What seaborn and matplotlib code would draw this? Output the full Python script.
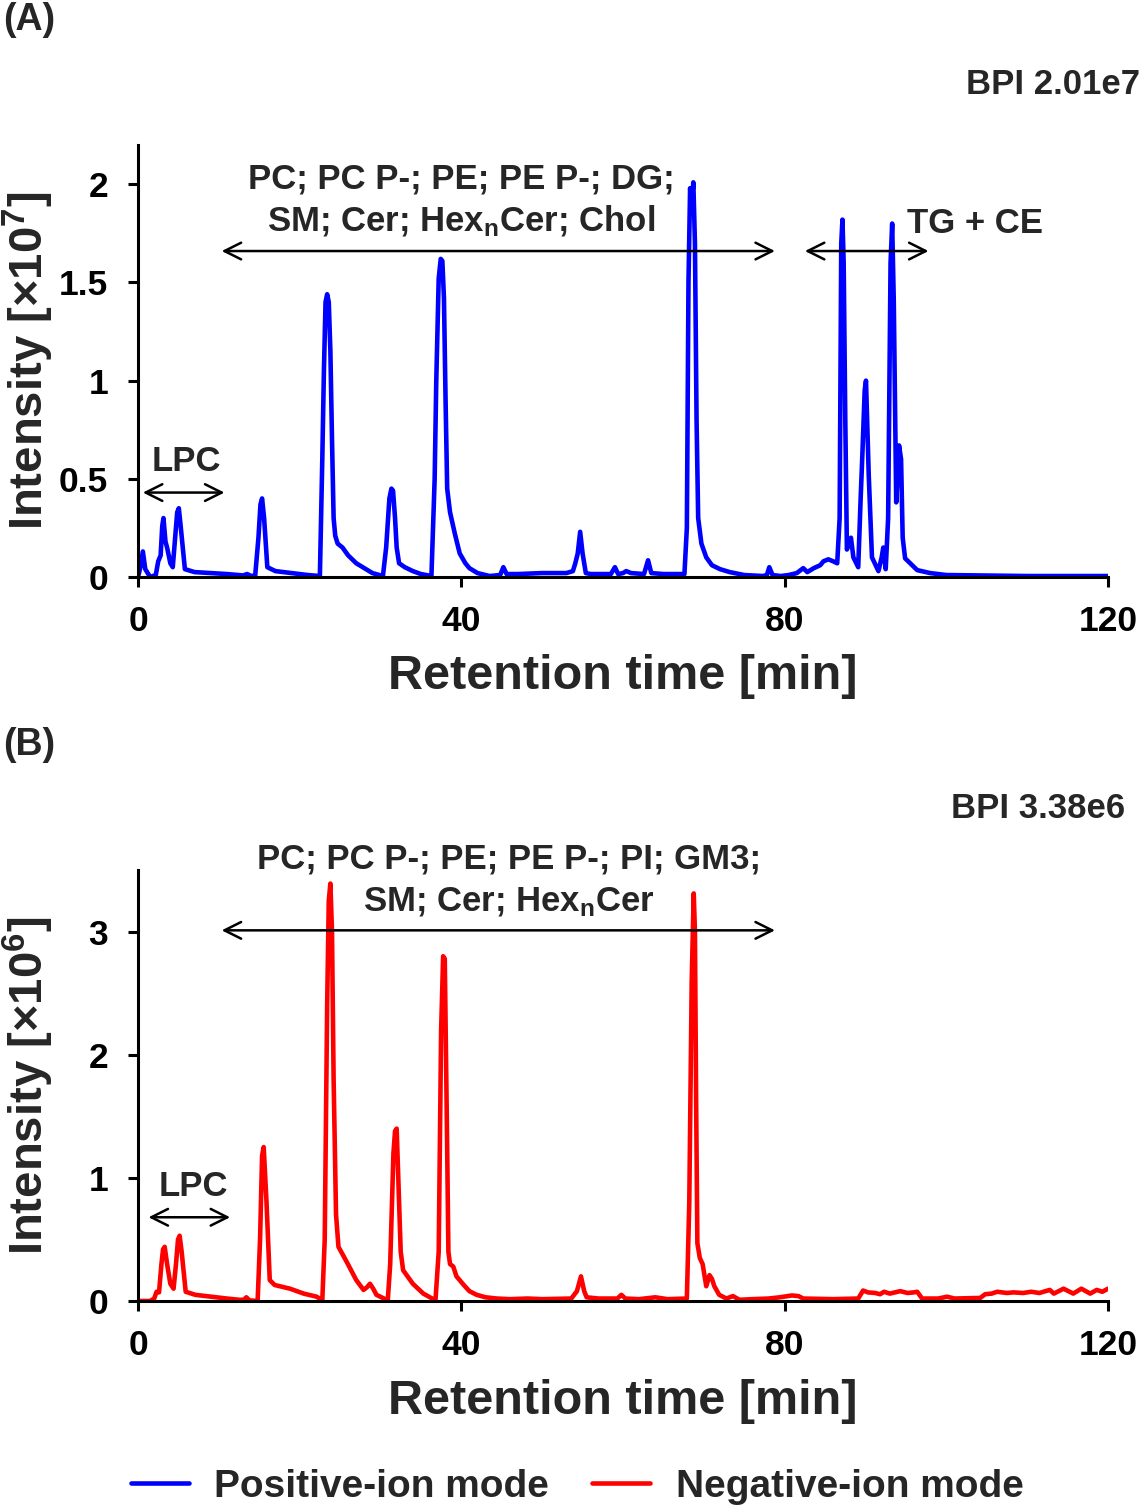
import matplotlib
matplotlib.use("Agg")
import matplotlib.pyplot as plt
import seaborn as sns
import pandas as pd

# ---------------- data ----------------
# Panel A: positive-ion mode BPI chromatogram (intensity x 1e7)
pos_time = [0, 0.3, 0.6, 0.9, 1.5, 2.2, 2.5, 2.8, 3.0, 3.15, 3.4, 3.6, 4.0, 4.3, 4.6, 4.85, 5.05, 5.3, 5.8,
            7.0, 9.0, 11.0, 13.0, 13.5, 14.0, 14.5, 14.9, 15.15, 15.35, 15.6, 16.0, 17.0, 19.0, 21.0,
            22.5, 22.8, 23.0, 23.2, 23.4, 23.6, 23.8, 24.0, 24.2, 24.4, 24.7, 25.3, 26.0, 27.0, 28.0, 29.0,
            30.3, 30.7, 31.1, 31.35, 31.55, 31.8, 32.0, 32.3, 33.0, 34.0, 35.0, 36.3, 36.7, 36.9, 37.2, 37.45,
            37.65, 37.85, 38.05, 38.25, 38.6, 39.2, 39.8, 40.5, 41.0, 42.0, 43.5, 44.8, 45.2, 45.6,
            47.0, 50.0, 53.0, 53.8, 54.1, 54.4, 54.7, 55.0, 55.4, 56.0, 58.5, 59.0, 59.4,
            60.0, 60.4, 61.0, 62.6, 63.1, 63.5, 65.0, 67.6, 67.9, 68.1, 68.3, 68.5, 68.7,
            68.9, 69.1, 69.3, 69.7, 70.3, 71.0, 72.0, 73.2, 75.0, 77.3, 77.8, 78.1, 78.5,
            79.5, 80.5, 81.5, 82.3, 82.8, 83.6, 84.4, 84.8, 85.4, 86.0, 86.5, 86.8, 87.0,
            87.15, 87.3, 87.5, 87.7, 88.0, 88.2, 88.5, 89.1, 89.4, 89.6, 89.9, 90.06, 90.4,
            90.8, 91.6, 92.0, 92.2, 92.5, 92.8, 93.1, 93.3, 93.5, 93.8, 94.0, 94.15, 94.4,
            94.6, 94.9, 96.4, 98.0, 100.0, 104.0, 110.0, 115.0, 120.0]
pos_int = [0.0, 0.05, 0.13, 0.04, 0.0, 0.01, 0.08, 0.11, 0.26, 0.30, 0.18, 0.15, 0.07, 0.05, 0.20, 0.33, 0.35, 0.25, 0.04,
           0.025, 0.02, 0.015, 0.008, 0.015, 0.005, 0.008, 0.20, 0.37, 0.40, 0.30, 0.05, 0.03, 0.02, 0.01,
           0.005, 0.60, 1.05, 1.40, 1.44, 1.40, 1.15, 0.70, 0.30, 0.21, 0.17, 0.15, 0.11, 0.07, 0.045, 0.02,
           0.005, 0.15, 0.40, 0.45, 0.44, 0.30, 0.15, 0.07, 0.05, 0.03, 0.015, 0.005, 0.50, 1.00, 1.52, 1.62,
           1.61, 1.42, 0.90, 0.45, 0.33, 0.22, 0.12, 0.07, 0.045, 0.02, 0.005, 0.01, 0.05, 0.015,
           0.015, 0.02, 0.02, 0.03, 0.07, 0.12, 0.23, 0.12, 0.02, 0.015, 0.015, 0.05, 0.015,
           0.02, 0.03, 0.02, 0.015, 0.085, 0.02, 0.015, 0.015, 0.25, 1.50, 1.98, 1.90, 2.01,
           1.70, 0.80, 0.30, 0.17, 0.10, 0.06, 0.04, 0.025, 0.01, 0.005, 0.01, 0.05, 0.01,
           0.005, 0.01, 0.02, 0.045, 0.025, 0.045, 0.06, 0.08, 0.09, 0.08, 0.07, 0.30, 1.70,
           1.82, 1.60, 0.80, 0.14, 0.18, 0.20, 0.10, 0.05, 0.40, 0.61, 0.95, 1.00, 0.52,
           0.10, 0.03, 0.10, 0.15, 0.04, 0.30, 1.60, 1.80, 1.40, 0.38, 0.55, 0.67, 0.60,
           0.20, 0.095, 0.035, 0.02, 0.01, 0.008, 0.005, 0.005, 0.005]

# Panel B: negative-ion mode BPI chromatogram (intensity x 1e6)
neg_time = [0, 1.5, 2.0, 2.3, 2.6, 2.9, 3.1, 3.3, 3.6, 4.0, 4.4, 4.7, 4.95, 5.15, 5.4, 5.9, 7.1, 9.0, 11.0,
            12.5, 13.1, 13.4, 13.8, 14.8, 15.1, 15.35, 15.55, 15.9, 16.3, 16.9, 18.8, 20.5, 22.1, 22.8,
            23.1, 23.4, 23.6, 23.8, 24.0, 24.2, 24.5, 24.8, 25.8, 27.0, 27.9, 28.3, 28.7, 29.1, 29.5,
            30.9, 31.2, 31.6, 31.8, 32.0, 32.2, 32.5, 32.8, 34.0, 35.3, 36.8, 37.2, 37.5, 37.75, 37.95,
            38.2, 38.4, 38.6, 39.0, 39.4, 40.3, 41.0, 41.9, 43.0, 44.4, 46.0, 48.2, 50.0,
            53.6, 54.3, 54.8, 55.2, 55.5, 57.0, 59.3, 59.8, 60.3, 62.0, 64.0, 65.5, 67.9,
            68.2, 68.5, 68.75, 68.9, 69.05, 69.2, 69.5, 69.85, 70.1, 70.3, 70.7, 71.0, 71.3, 71.9,
            72.8, 73.6, 74.4, 76.0, 78.0, 79.4, 80.9, 81.7, 82.3, 86.0, 89.1, 89.7, 90.3,
            91.2, 91.8, 92.3, 93.0, 94.3, 95.2, 96.0, 96.4, 97.0, 99.0, 100.1, 101.0, 104.2,
            104.8, 105.6, 106.3, 107.5, 108.3, 109.5, 110.5, 111.5, 112.8, 113.3, 114.5,
            115.7, 116.7, 117.8, 118.6, 119.3, 120.0]
neg_int = [0.0, 0.0, 0.02, 0.075, 0.07, 0.30, 0.42, 0.44, 0.30, 0.14, 0.10, 0.30, 0.50, 0.53, 0.40, 0.075, 0.05, 0.035, 0.02,
           0.01, 0.01, 0.03, 0.005, 0.0, 0.5, 1.18, 1.25, 0.80, 0.17, 0.13, 0.10, 0.06, 0.035, 0.005,
           0.5, 2.4, 3.25, 3.39, 3.0, 1.8, 0.70, 0.44, 0.32, 0.17, 0.09, 0.11, 0.14, 0.10, 0.05,
           0.005, 0.3, 1.20, 1.38, 1.40, 1.0, 0.40, 0.25, 0.14, 0.06, 0.005, 0.40, 2.20, 2.80, 2.78,
           1.5, 0.40, 0.30, 0.28, 0.20, 0.13, 0.08, 0.05, 0.03, 0.02, 0.015, 0.02, 0.015,
           0.02, 0.08, 0.20, 0.08, 0.03, 0.02, 0.02, 0.05, 0.02, 0.015, 0.03, 0.015, 0.02,
           0.8, 2.6, 3.31, 3.0, 1.6, 0.47, 0.35, 0.30, 0.20, 0.12, 0.21, 0.18, 0.12, 0.05,
           0.02, 0.04, 0.01, 0.015, 0.02, 0.03, 0.045, 0.04, 0.02, 0.015, 0.02, 0.085, 0.07,
           0.065, 0.055, 0.075, 0.06, 0.08, 0.065, 0.07, 0.075, 0.02, 0.02, 0.035, 0.02, 0.025,
           0.055, 0.06, 0.075, 0.065, 0.07, 0.065, 0.075, 0.065, 0.09, 0.06, 0.10,
           0.06, 0.10, 0.06, 0.09, 0.075, 0.10]

x_ticks = [0, 40, 80, 120]
yA_ticks = [0, 0.5, 1, 1.5, 2]
yA_labels = ["0", "0.5", "1", "1.5", "2"]
yB_ticks = [0, 1, 2, 3]
yB_labels = ["0", "1", "2", "3"]

# ---------------- style ----------------
sns.set_theme(style="ticks")
plt.rcParams['font.family'] = ['Liberation Sans', 'DejaVu Sans']
plt.rcParams['font.weight'] = 'bold'
plt.rcParams['axes.labelweight'] = 'bold'
plt.rcParams['mathtext.fontset'] = 'custom'
plt.rcParams['mathtext.rm'] = 'Liberation Sans:bold'
plt.rcParams['mathtext.bf'] = 'Liberation Sans:bold'
plt.rcParams['mathtext.it'] = 'Liberation Sans:bold'
plt.rcParams['mathtext.default'] = 'rm'

W, H = 1141, 1506
fig = plt.figure(figsize=(W / 100, H / 100), dpi=100)
fig.patch.set_facecolor('white')

axA = fig.add_axes([138 / W, 1 - 577 / H, 970 / W, 432 / H])
axB = fig.add_axes([138 / W, 1 - 1301 / H, 970 / W, 431 / H])

dfA = pd.DataFrame({"t": pos_time, "I": pos_int})
dfB = pd.DataFrame({"t": neg_time, "I": neg_int})

sns.lineplot(data=dfA, x="t", y="I", ax=axA, color="#0000FF",
             estimator=None, sort=False, label="Positive-ion mode", legend=False)
sns.lineplot(data=dfB, x="t", y="I", ax=axB, color="#FF0000",
             estimator=None, sort=False, label="Negative-ion mode", legend=False)
for ax in (axA, axB):
    for ln in ax.get_lines():
        ln.set_linewidth(3.3)
        ln.set_solid_joinstyle('round')
        ln.set_solid_capstyle('round')

tick_fs = 25.5
label_fs = 34
ann_fs = 25

for ax, ylim, yt, ytl, yl in [
    (axA, (0, 2.2), yA_ticks, yA_labels, r"Intensity [×10$^{7}$]"),
    (axB, (0, 3.5), yB_ticks, yB_labels, r"Intensity [×10$^{6}$]"),
]:
    ax.set_facecolor('white')
    ax.set_xlim(0, 120)
    ax.set_ylim(*ylim)
    ax.set_xticks(x_ticks)
    ax.set_xticklabels([str(v) for v in x_ticks])
    ax.set_yticks(yt)
    ax.set_yticklabels(ytl)
    for s in ['top', 'right']:
        ax.spines[s].set_visible(False)
    for s in ['left', 'bottom']:
        ax.spines[s].set_linewidth(2.2)
        ax.spines[s].set_color('black')
    ax.tick_params(axis='both', direction='out', length=7.5, width=2.2, colors='black',
                   labelsize=tick_fs)
    ax.tick_params(axis='y', pad=14)
    ax.tick_params(axis='x', pad=13)
    for lab in ax.get_xticklabels() + ax.get_yticklabels():
        lab.set_fontweight('bold')
    ax.set_xlabel("Retention time [min]", fontsize=35, fontweight='bold')
    ax.set_ylabel(yl, fontsize=label_fs, fontweight='bold', va='center')
    ax.yaxis.set_label_coords(-0.1125, 0.5)
    ax.grid(False)

axA.xaxis.set_label_coords(0.5, -0.178)
axB.xaxis.set_label_coords(0.5, -0.181)

arrow_kw = dict(arrowstyle="<->,head_length=0.4,head_width=0.2", color="black", lw=1.8,
                shrinkA=0, shrinkB=0, mutation_scale=30)

def darrow(ax, x0, x1, y):
    ax.annotate("", xy=(x1, y), xytext=(x0, y), arrowprops=arrow_kw, annotation_clip=False)

# Panel A annotations
darrow(axA, 10.35, 78.8, 1.66)
darrow(axA, 82.5, 97.8, 1.66)
darrow(axA, 0.6, 10.7, 0.43)
axA.text(40.0, 2.025, "PC; PC P-; PE; PE P-; DG;", ha='center', va='center',
         fontsize=ann_fs, fontweight='bold')
axA.text(40.0, 1.81, r"SM; Cer; Hex$_{\mathrm{n}}$Cer; Chol", ha='center', va='center',
         fontsize=ann_fs, fontweight='bold')
axA.text(95.1, 1.80, "TG + CE", ha='left', va='center', fontsize=ann_fs, fontweight='bold')
axA.text(6.0, 0.59, "LPC", ha='center', va='center', fontsize=ann_fs, fontweight='bold')

# Panel B annotations
darrow(axB, 10.35, 78.8, 3.01)
darrow(axB, 1.3, 11.4, 0.68)
axB.text(45.9, 3.59, "PC; PC P-; PE; PE P-; PI; GM3;", ha='center', va='center',
         fontsize=ann_fs, fontweight='bold')
axB.text(45.9, 3.24, r"SM; Cer; Hex$_{\mathrm{n}}$Cer", ha='center', va='center',
         fontsize=ann_fs, fontweight='bold')
axB.text(6.85, 0.93, "LPC", ha='center', va='center', fontsize=ann_fs, fontweight='bold')

# Panel letters and BPI
fig.text(3 / W, 1 - 20 / H, "(A)", ha='left', va='center', fontsize=27, fontweight='bold')
fig.text(3 / W, 1 - 745 / H, "(B)", ha='left', va='center', fontsize=27, fontweight='bold')
fig.text(1140 / W, 1 - 85 / H, "BPI 2.01e7", ha='right', va='center', fontsize=ann_fs,
         fontweight='bold')
fig.text(1125 / W, 1 - 808 / H, "BPI 3.38e6", ha='right', va='center', fontsize=ann_fs,
         fontweight='bold')

# Legend
handles = [axA.get_lines()[0], axB.get_lines()[0]]
leg = fig.legend(handles, ["Positive-ion mode", "Negative-ion mode"], loc='center',
                 bbox_to_anchor=(577 / W, 1 - 1487 / H), ncol=2, frameon=False,
                 prop={'size': 28, 'weight': 'bold'}, handlelength=1.5,
                 handletextpad=0.65, columnspacing=1.1, borderaxespad=0, borderpad=0)

fig.savefig("out.png", dpi=100, facecolor='white')
